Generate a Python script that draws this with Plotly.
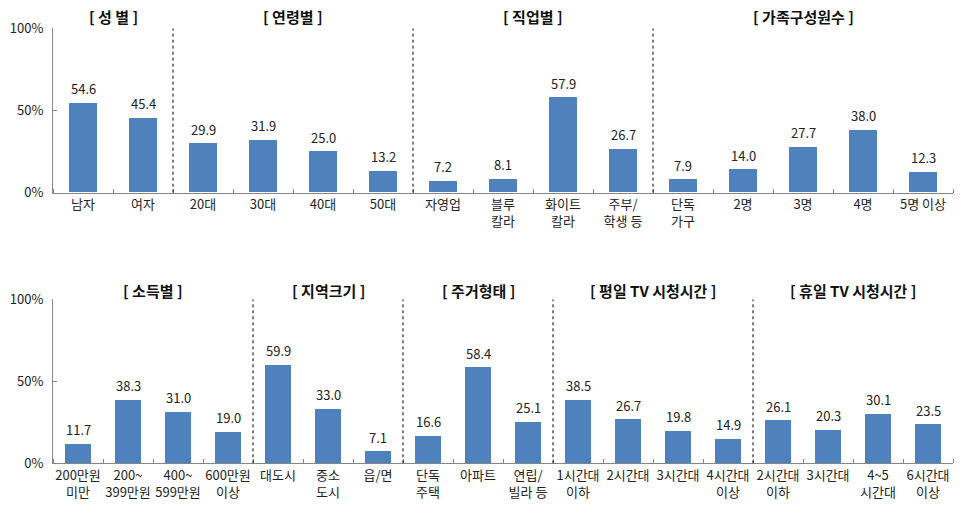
import plotly.graph_objects as go

FONT = "Noto Sans CJK KR"

# ---- top row data ----
top_titles = ["[ 성 별 ]", "[ 연령별 ]", "[ 직업별 ]", "[ 가족구성원수 ]"]
top_cats = [
    ["남자", "여자"],
    ["20대", "30대", "40대", "50대"],
    ["자영업", "블루<br>칼라", "화이트<br>칼라", "주부/<br>학생 등"],
    ["단독<br>가구", "2명", "3명", "4명", "5명 이상"],
]
top_vals = [
    [54.6, 45.4],
    [29.9, 31.9, 25.0, 13.2],
    [7.2, 8.1, 57.9, 26.7],
    [7.9, 14.0, 27.7, 38.0, 12.3],
]

# ---- bottom row data ----
bot_titles = ["[ 소득별 ]", "[ 지역크기 ]", "[ 주거형태 ]", "[ 평일 TV 시청시간 ]", "[ 휴일 TV 시청시간 ]"]
bot_cats = [
    ["200만원<br>미만", "200~<br>399만원", "400~<br>599만원", "600만원<br>이상"],
    ["대도시", "중소<br>도시", "읍/면"],
    ["단독<br>주택", "아파트", "연립/<br>빌라 등"],
    ["1시간대<br>이하", "2시간대", "3시간대", "4시간대<br>이상"],
    ["2시간대<br>이하", "3시간대", "4~5<br>시간대", "6시간대<br>이상"],
]
bot_vals = [
    [11.7, 38.3, 31.0, 19.0],
    [59.9, 33.0, 7.1],
    [16.6, 58.4, 25.1],
    [38.5, 26.7, 19.8, 14.9],
    [26.1, 20.3, 30.1, 23.5],
]

y_ticks = [0, 50, 100]
y_ticktext = ["0%", "50%", "100%"]

BAR = "#4F81BD"
AXIS = "#868686"
W, H = 963, 505

fig = go.Figure()
shapes = []
annotations = []


def add_row(cats, vals, titles, xa, ya, bar_w, title_y):
    labels = [c for g in cats for c in g]
    values = [v for g in vals for v in g]
    xs = list(range(len(values)))
    fig.add_trace(go.Bar(
        x=xs, y=values, width=bar_w, marker=dict(color=BAR, line=dict(width=0)),
        xaxis=xa, yaxis=ya, showlegend=False, hoverinfo="skip",
    ))
    for x, v in zip(xs, values):
        annotations.append(dict(
            x=x, y=v, xref=xa, yref=ya, text=f"{v:.1f}", showarrow=False,
            yanchor="bottom", yshift=3, font=dict(family=FONT, size=13, color="#222")))
    start = 0
    for i, g in enumerate(cats):
        n = len(g)
        center = start + (n - 1) / 2
        annotations.append(dict(
            x=center, y=title_y, xref=xa, yref="paper", text="<b>" + titles[i] + "</b>",
            showarrow=False, yanchor="middle", font=dict(family=FONT, size=15, color="#111")))
        if i > 0:
            shapes.append(dict(type="line", xref=xa, yref=ya, x0=start - 0.5, x1=start - 0.5,
                               y0=0, y1=100, line=dict(color="#000", width=1, dash="3px,3px")))
        start += n
    return labels, xs


top_labels, top_x = add_row(top_cats, top_vals, top_titles, "x", "y", 0.46, 1 - 16.7 / H)
bot_labels, bot_x = add_row(bot_cats, bot_vals, bot_titles, "x2", "y2", 0.53, 1 - 290.7 / H)


def xaxis_cfg(labels, xs, anchor, fsize):
    return dict(
        anchor=anchor, automargin=False,
        domain=[53 / W, 953 / W], range=[-0.5, len(xs) - 0.5],
        tickmode="array", tickvals=xs, ticktext=labels, ticks="",
        showline=True, linecolor=AXIS, linewidth=1, showgrid=False, zeroline=False,
        tickfont=dict(family=FONT, size=fsize, color="#222"),
        minor=dict(tickmode="linear", tick0=0.5, dtick=1, ticks="inside", ticklen=4,
                   tickcolor=AXIS, showgrid=False),
        fixedrange=True,
    )


def yaxis_cfg(dom, anchor):
    return dict(
        anchor=anchor, automargin=False,
        domain=dom, range=[0, 100], tickmode="array", tickvals=y_ticks, ticktext=y_ticktext,
        ticks="inside", ticklen=4, tickcolor=AXIS, showline=True, linecolor=AXIS, linewidth=1,
        showgrid=False, zeroline=False, tickfont=dict(family=FONT, size=13, color="#222"),
        ticklabelstandoff=6, fixedrange=True,
    )


fig.update_layout(
    width=W, height=H, margin=dict(l=0, r=0, t=0, b=0, autoexpand=False),
    paper_bgcolor="white", plot_bgcolor="white",
    xaxis=xaxis_cfg(top_labels, top_x, "y", 13),
    yaxis=yaxis_cfg([1 - 192.7 / H, 1 - 28.3 / H], "x"),
    xaxis2=xaxis_cfg(bot_labels, bot_x, "y2", 13),
    yaxis2=yaxis_cfg([1 - 463.3 / H, 1 - 299.3 / H], "x2"),
    shapes=shapes, annotations=annotations, bargap=0,
    font=dict(family=FONT),
)

fig.write_html("out.html")
